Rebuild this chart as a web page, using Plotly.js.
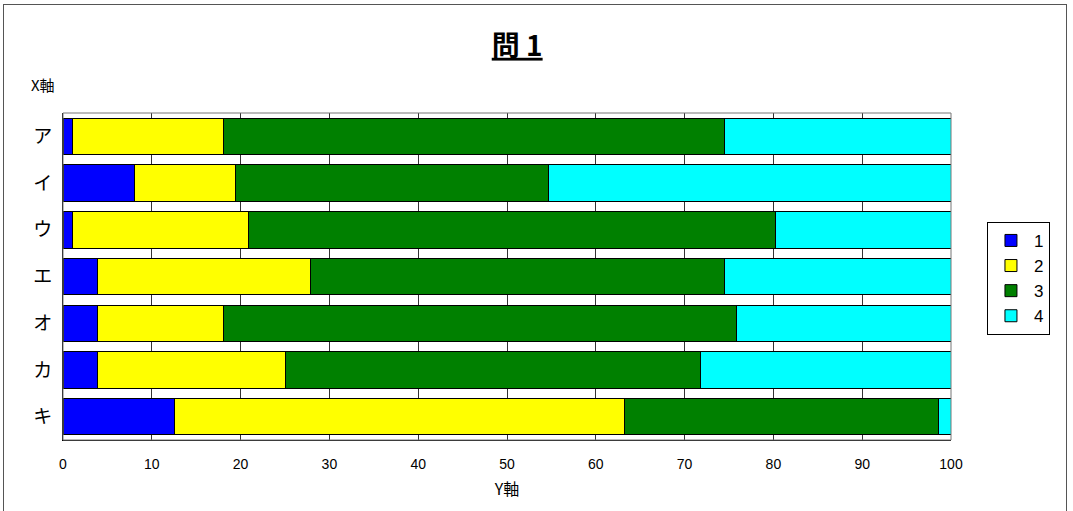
<!DOCTYPE html>
<html>
<head>
<meta charset="utf-8">
<script src="https://cdn.plot.ly/plotly-3.0.1.min.js"></script>
<style>
html,body{margin:0;padding:0;background:#fff;}
#frame{position:absolute;left:3px;top:4px;width:1064px;height:520px;border:1px solid #555;box-sizing:border-box;}
#chart{position:absolute;left:0;top:0;width:1073px;height:511px;}
</style>
</head>
<body>
<div id="frame"></div>
<div id="chart"></div>
<script>
const categories = ['ア','イ','ウ','エ','オ','カ','キ'];
const seriesNames = ['1','2','3','4'];
const s1 = [1.1, 8.1, 1.1, 3.9, 3.9, 3.9, 12.5];
const s2 = [17.0, 11.3, 19.8, 24.0, 14.2, 21.2, 50.7];
const s3 = [56.4, 35.3, 59.3, 46.6, 57.8, 46.7, 35.4];
const s4 = [25.5, 45.3, 19.8, 25.5, 24.1, 28.2, 1.4];
const xTicks = [0,10,20,30,40,50,60,70,80,90,100];
const colors = ['#0000ff','#ffff00','#008000','#00ffff'];

const data = [s1,s2,s3,s4].map((vals,i)=>({
  type:'bar', orientation:'h', name:seriesNames[i],
  y:categories, x:vals,
  marker:{color:colors[i], line:{color:'#000', width:1}},
  hoverinfo:'x+y+name'
}));

const layout = {
  width:1073, height:511,
  paper_bgcolor:'rgba(0,0,0,0)', plot_bgcolor:'#fff',
  margin:{l:63, r:122, t:113, b:71},
  barmode:'stack', bargap:0.22,
  font:{family:'Liberation Sans, Arial, sans-serif', color:'#000'},
  title:{text:'<b><u>問 1</u></b>', x:0.482, xanchor:'center', y:0.91, yanchor:'middle', yref:'container',
    font:{family:'Noto Sans CJK JP', size:28, color:'#000'}},
  xaxis:{range:[0,100], tickvals:xTicks, ticktext:xTicks.map(String), showgrid:true, gridcolor:'#333', gridwidth:1,
    zeroline:false, showline:true, linecolor:'#000', linewidth:1, ticks:'', fixedrange:true,
    tickfont:{size:14, family:'Liberation Sans'}, ticklabelstandoff:11,
    title:{text:'Y軸', font:{size:16, family:'Noto Sans CJK JP'}, standoff:13}},
  yaxis:{type:'category', categoryorder:'array', categoryarray:categories, autorange:'reversed',
    showline:true, linecolor:'#000', linewidth:1, ticks:'', showgrid:false, fixedrange:true,
    tickfont:{size:19, family:'Noto Sans CJK JP'}, ticklabelstandoff:6},
  legend:{x:1.0405, xanchor:'left', y:0.667, yanchor:'top', bordercolor:'#000', borderwidth:1,
    bgcolor:'#fff', font:{size:17, family:'Liberation Sans'}, traceorder:'normal', itemwidth:36,
    tracegroupgap:0},
  shapes:[{type:'rect', xref:'paper', yref:'paper', x0:0, x1:1, y0:0, y1:1, line:{color:'#777', width:1}, layer:'above'}],
  annotations:[{text:'X軸', xref:'paper', yref:'paper', x:-0.038, y:1.0+ (113-84)/327, xanchor:'left', yanchor:'middle',
    showarrow:false, font:{size:15, family:'Noto Sans CJK JP', color:'#000'}}]
};
Plotly.newPlot('chart', data, layout, {displayModeBar:false, staticPlot:true});
</script>
</body>
</html>
